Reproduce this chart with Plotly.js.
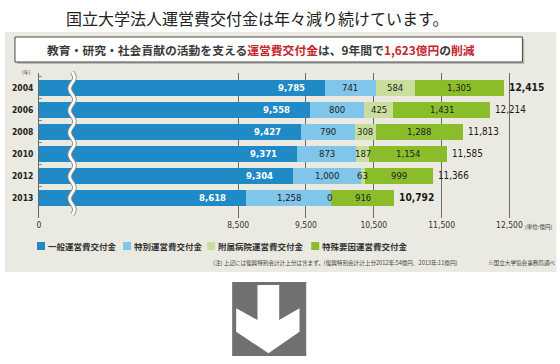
<!DOCTYPE html>
<html>
<head>
<meta charset="utf-8">
<script src="https://cdn.plot.ly/plotly-3.0.1.min.js"></script>
<style>
html,body{margin:0;padding:0;background:#fff;}
#chart{width:560px;height:364px;}
</style>
</head>
<body>
<div id="chart"></div>
<script>
// ---- data ----
const years = ['2004', '2006', '2008', '2010', '2012', '2013'];
const general = [9785, 9558, 9427, 9371, 9304, 8618];          // 一般運営費交付金
const special = [741, 800, 790, 873, 1000, 1258];              // 特別運営費交付金
const hospital = [584, 425, 308, 187, 63, 0];                  // 附属病院運営費交付金
const specialFactor = [1305, 1431, 1288, 1154, 999, 916];      // 特殊要因運営費交付金
const totals = [12415, 12214, 11813, 11585, 11366, 10792];
const seriesNames = ['一般運営費交付金', '特別運営費交付金', '附属病院運営費交付金', '特殊要因運営費交付金'];
const xTickVals = [8500, 9500, 10500, 11500, 12500];
const xTickText = ['8,500', '9,500', '10,500', '11,500', '12,500'];

// ---- style ----
const colors = ['#1f8ac5', '#7fc6ea', '#c9de9d', '#8bbd2b'];
const CJK = '"Noto Sans CJK JP", sans-serif';
const NUM = '"Liberation Sans Narrow", "DejaVu Sans Condensed", "Roboto Condensed", "Noto Sans CJK JP", sans-serif';
const RED = '#c4262e';

// axis is broken: the origin "0" is drawn at this value
const axisOrigin = 5563;
const axisEnd = 12700;

// plot area geometry (pixels)
const W0 = 560, H0 = 364;
const M = {l: 39, r: 37.4, t: 73, b: 146};
const PW = W0 - M.l - M.r, PH = H0 - M.t - M.b;
const px = p => (p - M.l) / PW;
const py = p => (M.t + PH - p) / PH;

const seriesValues = [general, special, hospital, specialFactor];
const traces = seriesValues.map((vals, k) => ({
  type: 'bar',
  orientation: 'h',
  name: seriesNames[k],
  y: years,
  x: vals,
  marker: {color: colors[k], line: {width: 0}},
  hoverinfo: 'x+name',
  showlegend: false
}));

const annotations = [];
const shapes = [];

// background panel
shapes.push({type: 'rect', xref: 'paper', yref: 'paper', layer: 'below',
  x0: px(5), x1: px(556), y0: py(272), y1: py(32),
  fillcolor: '#ebeae2', line: {width: 0}});
// subtitle box shadow + box
shapes.push({type: 'rect', xref: 'paper', yref: 'paper', layer: 'below',
  x0: px(17), x1: px(524), y0: py(64), y1: py(39),
  fillcolor: '#bdbcb4', line: {width: 0}});
shapes.push({type: 'rect', xref: 'paper', yref: 'paper', layer: 'below',
  x0: px(15), x1: px(522), y0: py(62), y1: py(37),
  fillcolor: '#ffffff', line: {width: 1, color: '#444'}});

// main title
annotations.push({xref: 'paper', yref: 'paper', x: px(257), y: py(18),
  xanchor: 'center', yanchor: 'middle', showarrow: false,
  text: '国立大学法人運営費交付金は年々減り続けています。',
  font: {family: CJK, size: 16, color: '#222'}});
// subtitle
annotations.push({xref: 'paper', yref: 'paper', x: px(261), y: py(50),
  xanchor: 'center', yanchor: 'middle', showarrow: false,
  text: '<b>教育・研究・社会貢献の活動を支える<span style="color:' + RED + '">運営費交付金</span>は、9年間で<span style="color:' + RED + '">1,623億円</span>の<span style="color:' + RED + '">削減</span></b>',
  font: {family: CJK, size: 11.8, color: '#3a3a3a'}});

// (年) and unit labels
annotations.push({xref: 'paper', yref: 'paper', x: px(27), y: py(72),
  xanchor: 'center', yanchor: 'middle', showarrow: false,
  text: '(年)', font: {family: CJK, size: 5, color: '#333'}});
annotations.push({xref: 'paper', yref: 'paper', x: px(523), y: py(227),
  xanchor: 'left', yanchor: 'middle', showarrow: false,
  text: '(単位:億円)', font: {family: CJK, size: 5.5, color: '#333'}});

// bar value labels (positions from data; y given as category index)
for (let i = 0; i < years.length; i++) {
  const c1 = general[i];
  const c2 = c1 + special[i];
  const c3 = c2 + hospital[i];
  const c4 = c3 + specialFactor[i];
  const base = {xref: 'x', yref: 'y', y: i, yanchor: 'middle', showarrow: false};
  annotations.push(Object.assign({}, base, {x: c1, xanchor: 'right', xshift: -18,
    text: '<b>' + general[i].toLocaleString('en-US') + '</b>',
    font: {family: NUM, size: 9.5, color: '#ffffff'}}));
  annotations.push(Object.assign({}, base, {x: (c1 + c2) / 2, xanchor: 'center',
    text: special[i].toLocaleString('en-US'),
    font: {family: NUM, size: 9.5, color: '#222'}}));
  annotations.push(Object.assign({}, base, {x: (c2 + c3) / 2, xanchor: 'center',
    xshift: hospital[i] === 0 ? -2 : 0,
    text: hospital[i].toLocaleString('en-US'),
    font: {family: NUM, size: 9.5, color: '#222'}}));
  annotations.push(Object.assign({}, base, {x: (c3 + c4) / 2, xanchor: 'center',
    text: specialFactor[i].toLocaleString('en-US'),
    font: {family: NUM, size: 9.5, color: '#222'}}));
  const emph = (i === 0 || i === years.length - 1);
  annotations.push(Object.assign({}, base, {x: totals[i], xanchor: 'left', xshift: 3,
    text: emph ? '<b>' + totals[i].toLocaleString('en-US') + '</b>' : totals[i].toLocaleString('en-US'),
    font: {family: NUM, size: emph ? 10.2 : 9.8, color: '#1a1a1a'}}));
}

// axis break (wavy gap)
(function () {
  const pts = [];
  for (let yy = 72; yy <= 215; yy += 1.5) {
    const xx = 72 + 2.4 * Math.sin((yy - 72) / 22 * 2 * Math.PI);
    pts.push(px(xx).toFixed(5) + ',' + py(yy).toFixed(5));
  }
  const d = 'M' + pts.join(' L');
  shapes.push({type: 'path', xref: 'paper', yref: 'paper', layer: 'above', path: d,
    line: {color: '#8a8a8a', width: 4.5}});
  shapes.push({type: 'path', xref: 'paper', yref: 'paper', layer: 'above', path: d,
    line: {color: '#ffffff', width: 2.8}});
})();

// custom legend
const legendX = [37, 123, 207, 311];
for (let k = 0; k < seriesNames.length; k++) {
  shapes.push({type: 'rect', xref: 'paper', yref: 'paper',
    x0: px(legendX[k]), x1: px(legendX[k] + 8), y0: py(250), y1: py(242),
    fillcolor: colors[k], line: {width: 0}});
  annotations.push({xref: 'paper', yref: 'paper', x: px(legendX[k] + 8.5), y: py(246),
    xanchor: 'left', yanchor: 'middle', showarrow: false,
    text: '<b>' + seriesNames[k] + '</b>',
    font: {family: CJK, size: 8.5, color: '#333'}});
}

// footnotes
annotations.push({xref: 'paper', yref: 'paper', x: px(211), y: py(262.5),
  xanchor: 'left', yanchor: 'middle', showarrow: false,
  text: '(注) 上記には復興特別会計計上分は含まず。(復興特別会計計上分2012年:54億円、2013年:11億円)',
  font: {family: CJK, size: 5.6, color: '#444'}});
annotations.push({xref: 'paper', yref: 'paper', x: px(558), y: py(262.5),
  xanchor: 'right', yanchor: 'middle', showarrow: false,
  text: '※国立大学協会事務局調べ',
  font: {family: CJK, size: 5.6, color: '#444'}});

// down arrow
shapes.push({type: 'rect', xref: 'paper', yref: 'paper',
  x0: px(232), x1: px(306), y0: py(356), y1: py(282),
  fillcolor: '#707070', line: {width: 0}});
(function () {
  const poly = [[257.3, 285], [279, 285], [279, 320], [299.3, 308.3], [299.3, 331.7],
    [268.3, 353.3], [236, 331.7], [236, 308.3], [257.3, 320]];
  const d = 'M' + poly.map(p => px(p[0]).toFixed(5) + ',' + py(p[1]).toFixed(5)).join(' L') + ' Z';
  shapes.push({type: 'path', xref: 'paper', yref: 'paper', path: d,
    fillcolor: '#ffffff', line: {width: 0}});
})();

const layout = {
  width: W0, height: H0,
  margin: M,
  paper_bgcolor: '#ffffff',
  plot_bgcolor: 'rgba(0,0,0,0)',
  barmode: 'stack',
  bargap: 0.27,
  showlegend: false,
  xaxis: {
    range: [axisOrigin, axisEnd],
    tickmode: 'array',
    tickvals: [axisOrigin].concat(xTickVals),
    ticktext: ['0'].concat(xTickText),
    showgrid: true, gridcolor: '#6a6a6a', gridwidth: 1,
    zeroline: false, showline: false, ticks: '',
    tickfont: {family: NUM, size: 8.5, color: '#333'},
    fixedrange: true
  },
  yaxis: {
    type: 'category',
    categoryorder: 'array', categoryarray: years,
    range: [5.91, -0.68],
    showline: true, linecolor: '#666', linewidth: 1,
    showgrid: false, zeroline: false,
    ticks: 'inside', tickson: 'boundaries', ticklen: 3, tickcolor: '#888',
    tickfont: {family: NUM, size: 8.5, color: '#222', weight: 'bold'},
    ticklabelstandoff: 3,
    fixedrange: true
  },
  shapes: shapes,
  annotations: annotations
};

Plotly.newPlot('chart', traces, layout, {displayModeBar: false, staticPlot: true});
</script>
</body>
</html>
